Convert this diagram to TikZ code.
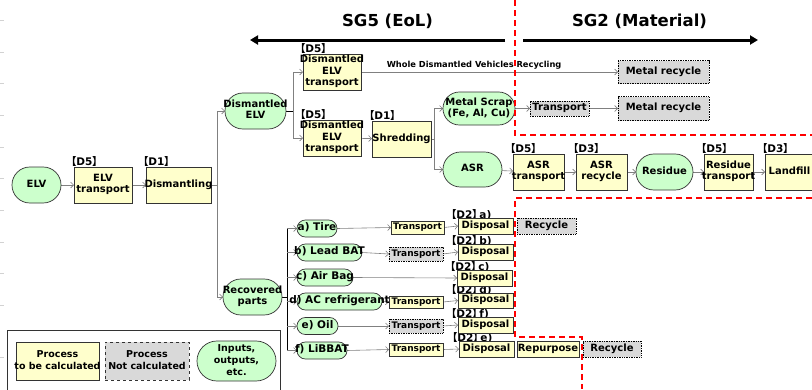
\documentclass[tikz,border=0pt]{standalone}
\usepackage{fontspec}
\setmainfont{DejaVu Sans}
\newfontfamily\cjk{Noto Sans CJK JP}[RawFeature=+palt]
\usetikzlibrary{arrows.meta}
\definecolor{pyel}{HTML}{FFFFCC}
\definecolor{pgrn}{HTML}{CCFFCC}
\definecolor{pgry}{HTML}{D9D9D9}
\definecolor{bord}{HTML}{333333}
\definecolor{lgray}{HTML}{808080}
\newcommand\T[1]{\makebox[0pt]{\begin{tabular}{@{}c@{}}#1\end{tabular}}}
\newcommand\bk[1]{{\cjk\bfseries 【}#1{\cjk\bfseries 】}}
\pgfdeclarelayer{bg}
\pgfsetlayers{bg,main}
\begin{document}
\begin{tikzpicture}[x=1pt,y=-1pt,
 base/.style={inner sep=0pt, outer sep=0pt, font=\bfseries\fontsize{10}{11.3}\selectfont, text=black},
 proc/.style={base, rectangle, draw=bord, line width=0.7pt, fill=pyel},
 nproc/.style={base, rectangle, draw=black, densely dotted, line width=0.7pt, fill=pgry},
 io/.style={base, rectangle, draw=bord, line width=0.7pt, fill=pgrn, rounded corners=#1},
 sz/.style 2 args={minimum width=#1pt, minimum height=#2pt},
 small/.style={font=\bfseries\fontsize{9}{10}\selectfont},
 item/.style={font=\bfseries\fontsize{10.5}{12}\selectfont},
 leg/.style={font=\bfseries\fontsize{9.5}{11.8}\selectfont},
 tag/.style={inner sep=0pt, anchor=base west, font=\bfseries\fontsize{10.5}{12}\selectfont},
 arr/.style={draw=lgray, line width=0.6pt, -{Straight Barb[length=3pt,width=6pt]}},
 ln/.style={draw=lgray, line width=0.6pt},
 dk/.style={draw=black, line width=0.7pt},
 reddash/.style={draw=red, line width=1.6pt, dash pattern=on 6pt off 4pt},
 big/.style={draw=black, line width=3pt, -{Triangle[length=8pt,width=9pt]}},
 title/.style={font=\bfseries\fontsize{16.5}{19}\selectfont},
 wlab/.style={inner sep=0pt, font=\bfseries\fontsize{8.3}{9}\selectfont}
]
\useasboundingbox (0,0) rectangle (812,389);
\clip (0,0) rectangle (812,389);

% faint ticks on the left edge
\foreach \yy in {20,52,83,115,147,178,210,242,273,305,357}
  \draw[gray!35, line width=0.6pt] (0,\yy) -- (4,\yy);

% titles and range arrows
\node[title] (sg5) at (387.5,21) {SG5 (EoL)};
\node[title] (sg2) at (639.5,21) {SG2 (Material)};
\coordinate (a1s) at (505,40); \coordinate (a1e) at (250,40);
\coordinate (a2s) at (523,40); \coordinate (a2e) at (758,40);
\draw[big] (a1s) -- (a1e);
\draw[big] (a2s) -- (a2e);

% upper chain
\node[io=17.9pt, sz={49}{36}] (elv) at (36.5,185) {\T{ELV}};
\node[proc, sz={58}{36}] (elvtr) at (103,185) {\T{ELV\\transport}};
\node[proc, sz={65}{36}] (dism) at (178.5,185) {\T{Dismantling}};
\node[io=17.9pt, sz={61}{36}] (delv) at (255.5,111) {\T{Dismantled\\ELV}};
\node[proc, sz={58}{36}] (dtr1) at (332,72) {\T{Dismantled\\ELV\\transport}};
\node[proc, sz={58}{36}] (dtr2) at (332,138) {\T{Dismantled\\ELV\\transport}};
\node[proc, sz={59}{36}] (shred) at (401.5,139) {\T{Shredding}};
\node[io=16.4pt, sz={72}{33}] (mscrap) at (479,108.5) {\T{Metal Scrap\\(Fe, Al, Cu)}};
\node[io=17.4pt, sz={59}{35}] (asr) at (472.5,169.5) {\T{ASR}};
\node[nproc, sz={59}{15}] (tr1) at (559.5,108.5) {\T{Transport}};
\node[nproc, sz={91}{23}] (mr1) at (663.5,72) {\T{Metal recycle}};
\node[nproc, sz={91}{24}] (mr2) at (663.5,108.5) {\T{Metal recycle}};
\node[proc, sz={51}{36}] (asrtr) at (538.5,172) {\T{ASR\\transport}};
\node[proc, sz={51}{36}] (asrrec) at (601.5,172) {\T{ASR\\recycle}};
\node[io=17.9pt, sz={57}{36}] (res) at (664.5,172) {\T{Residue}};
\node[proc, sz={49}{36}] (restr) at (728.5,172) {\T{Residue\\transport}};
\node[proc, sz={49}{36}] (landf) at (789.5,172) {\T{Landfill}};

% lower part
\node[io=17.9pt, sz={59}{36}] (recp) at (252.5,297) {\T{Recovered\\parts}};
\node[io=8.4pt, item, sz={40}{17}] (ia) at (317,228.5) {\T{a) Tire}};
\node[io=8.4pt, item, sz={65}{17}] (ib) at (329.5,252.5) {\T{b) Lead BAT}};
\node[io=8.4pt, item, sz={56}{17}] (ic) at (325,277.5) {\T{c) Air Bag}};
\node[io=8.4pt, item, sz={85}{17}] (id) at (339.5,301.5) {\T{d) AC refrigerant}};
\node[io=8.4pt, item, sz={41}{17}] (ie) at (317.5,326) {\T{e) Oil}};
\node[io=8.4pt, item, sz={50}{17}] (if) at (322,350.5) {\T{f) LiBBAT}};

\node[proc, small, sz={53}{13}] (ta) at (417.5,227.5) {\T{Transport}};
\node[nproc, small, sz={54}{14}] (tb) at (416,254) {\T{Transport}};
\node[proc, small, sz={54}{12}] (td) at (416,302) {\T{Transport}};
\node[nproc, small, sz={54}{14}] (te) at (416,326) {\T{Transport}};
\node[proc, small, sz={54}{13}] (tf) at (416,349.5) {\T{Transport}};

\node[proc, sz={55}{16}] (da) at (485.5,226) {\T{Disposal}};
\node[proc, sz={55}{16}] (db) at (485.5,252) {\T{Disposal}};
\node[proc, sz={55}{16}] (dc) at (484.5,278) {\T{Disposal}};
\node[proc, sz={55}{15}] (dd) at (485.5,300.5) {\T{Disposal}};
\node[proc, sz={55}{16}] (de) at (485.5,325) {\T{Disposal}};
\node[proc, sz={55}{16}] (df) at (486.5,349) {\T{Disposal}};

\node[nproc, sz={59}{16}] (reca) at (546.5,226) {\T{Recycle}};
\node[proc, sz={62}{16}] (repf) at (548,349) {\T{Repurpose}};
\node[nproc, sz={58}{16}] (recf) at (612,349) {\T{Recycle}};

% tags (behind the boxes)
\begin{pgfonlayer}{bg}
\node[tag] at ([shift={(-3,-2)}]elvtr.north west) {\bk{D5}};
\node[tag] at ([shift={(-3,-2)}]dism.north west) {\bk{D1}};
\node[tag] at ([shift={(-3,-2)}]dtr1.north west) {\bk{D5}};
\node[tag] at ([shift={(-3,-2)}]dtr2.north west) {\bk{D5}};
\node[tag] at ([shift={(-3,-2)}]shred.north west) {\bk{D1}};
\node[tag] at ([shift={(-3,-2)}]asrtr.north west) {\bk{D5}};
\node[tag] at ([shift={(-3,-2)}]asrrec.north west) {\bk{D3}};
\node[tag] at ([shift={(-3,-2)}]restr.north west) {\bk{D5}};
\node[tag] at ([shift={(-3,-2)}]landf.north west) {\bk{D3}};
\node[tag] at ([shift={(-7,0.5)}]da.north west) {\bk{D2}\,a)};
\node[tag] at ([shift={(-7,0.5)}]db.north west) {\bk{D2}\,b)};
\node[tag] at ([shift={(-7,0.5)}]dc.north west) {\bk{D2}\,c)};
\node[tag] at ([shift={(-7,0.5)}]dd.north west) {\bk{D2}\,d)};
\node[tag] at ([shift={(-7,0.5)}]de.north west) {\bk{D2}\,f)};
\node[tag] at ([shift={(-7,0.5)}]df.north west) {\bk{D2}\,e)};

% connectors
\draw[arr] (elv) -- (elvtr);
\draw[arr] (elvtr) -- (dism);
\coordinate (f1) at (217,185);
\draw[ln] (dism.east) -- (f1);
\draw[arr] (f1) |- (delv.west);
\draw[arr] (f1) |- (recp.west);
\coordinate (f2) at (293,111);
\draw[dk] (delv.east) -- (f2);
\draw[arr] (f2) |- (dtr1.west);
\draw[arr] (f2) |- (dtr2.west);
\draw[arr] (dtr1.east) -- node[pos=0.44, above=2.5pt, wlab] {Whole Dismantled Vehicles Recycling} (mr1.west);
\draw[arr] (dtr2) -- (shred);
\coordinate (f3) at (434,139);
\draw[ln] (shred.east) -- (f3);
\draw[arr] (f3) |- (mscrap.west);
\draw[arr] (f3) |- (asr.west);
\draw[arr] (mscrap.east) -- (tr1.west);
\draw[arr] (tr1) -- (mr2);
\draw[arr] (asr) -- (asrtr);
\draw[arr] (asrtr) -- (asrrec);
\draw[arr] (asrrec) -- (res);
\draw[arr] (res) -- (restr);
\draw[arr] (restr) -- (landf);

\coordinate (f4) at (287,297);
\draw[dk] (recp.east) -- (f4);
\draw[dk] (f4 |- ia.west) -- (f4 |- if.west);
\foreach \n in {ia,ib,ic,id,ie,if}
  \draw[arr] (f4 |- \n.west) -- (\n.west);
\draw[arr] (ia.east) -- (ta.west);
\draw[arr] (ta.east) -- (da.west);
\draw[arr] (ib.east) -- (tb.west);
\draw[arr] (tb.east) -- (db.west);
\draw[arr] (ic.east) -- (dc.west);
\draw[arr] (id.east) -- (td.west);
\draw[arr] (td.east) -- (dd.west);
\draw[arr] (ie.east) -- (te.west);
\draw[arr] (te.east) -- (de.west);
\draw[arr] (if.east) -- (tf.west);
\draw[arr] (tf.east) -- (df.west);
\end{pgfonlayer}

% red dashed boundaries
\draw[reddash] (515,0) -- (515,135) -- (812,135);
\draw[reddash] (812,198) -- (515,198) -- (515,337) -- (582,337) -- (582,389);

% legend
\draw[draw=bord, line width=0.8pt] (7,395) -- (7,330) -- (280,330) -- (280,395);
\node[proc, leg, sz={83}{38}] (lg1) at (57.5,361) {\T{Process\\to be calculated}};
\node[base, leg, rectangle, draw=bord, dashed, line width=0.7pt, fill=pgry, sz={84}{38}] (lg2) at (147,361) {\T{Process\\Not calculated}};
\node[io=19.9pt, leg, sz={79}{40}] (lg3) at (236.5,361) {\T{Inputs,\\outputs,\\etc.}};
\end{tikzpicture}
\end{document}
